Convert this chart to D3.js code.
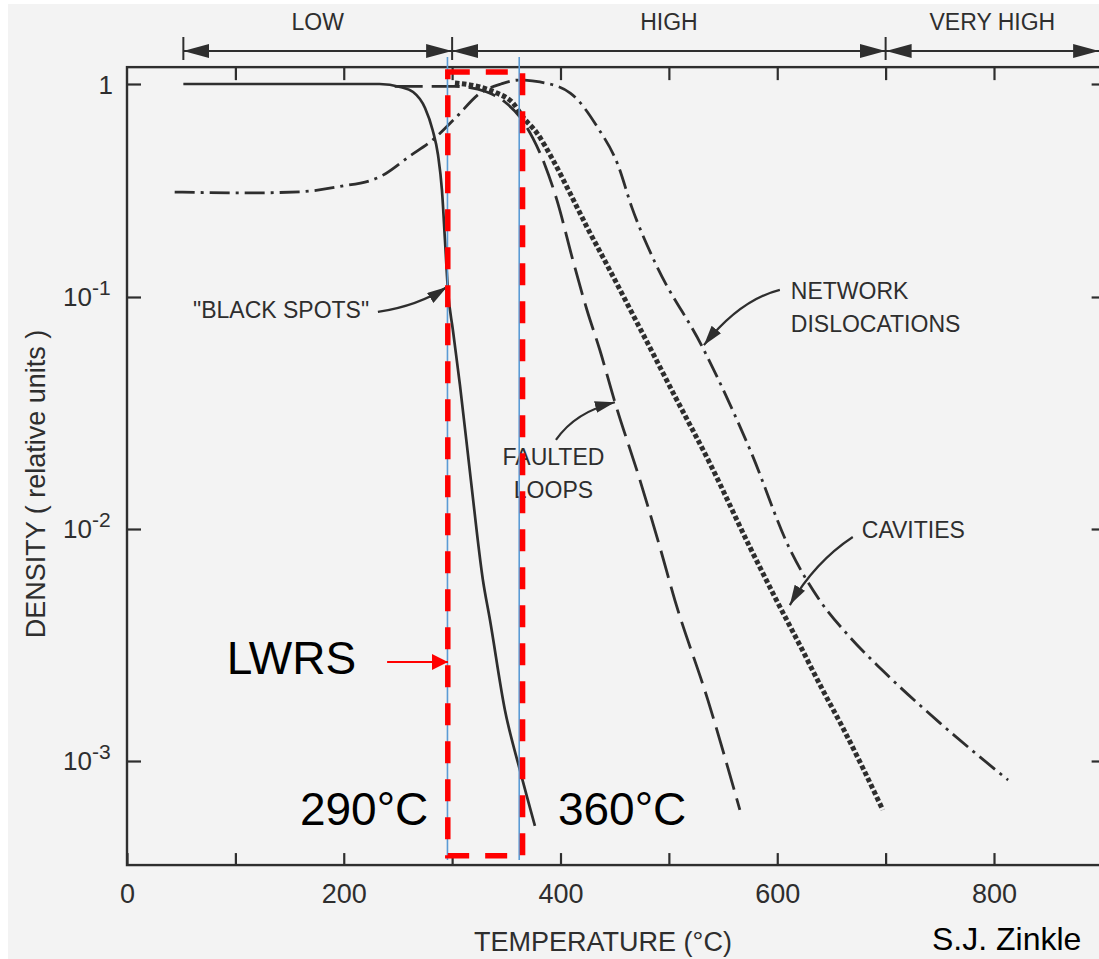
<!DOCTYPE html>
<html>
<head>
<meta charset="utf-8">
<script src="https://cdn.jsdelivr.net/npm/d3@7"></script>
<style>
  body { margin: 0; background: #fff; }
  svg { display: block; font-family: "Liberation Sans", Arial, Helvetica, sans-serif; }
</style>
</head>
<body>
<svg id="chart" width="1099" height="959"></svg>
<script>
// curves: [temperature °C, relative density]
const blackSpots = [[52,1.0],[233,1.0],[252,0.968],[264,0.917],[275,0.771],[282,0.608],[287,0.464],
  [290.6,0.318],[293.4,0.185],[296.1,0.108],[300.7,0.0721],[307.2,0.0418],[317.3,0.01625],
  [328.4,0.00603],[334.9,0.00406],[348.7,0.00166],[362.5,0.000915],[376.4,0.000525]];
const faultedLoops = [[247,0.975],[302,0.975],[332,0.917],[348.7,0.823],[362.5,0.70],[374.5,0.557],
  [385.6,0.417],[396.7,0.285],[411.4,0.149],[424.4,0.0879],[436.3,0.0591],[450.2,0.0352],
  [473.2,0.0163],[491.7,0.00836],[505.5,0.00494],[536,0.00183],[565.5,0.000615]];
const networkDislocations = [[44,0.311],[113,0.308],[160,0.312],[196,0.33],[233,0.366],[261,0.459],
  [282,0.546],[303,0.692],[326,0.907],[345,1.0],[362,1.044],[381,1.022],[409,0.907],[434,0.628],
  [453,0.417],[466,0.262],[487,0.146],[531,0.0608],[575,0.0219],[612,0.00812],[639,0.00494],
  [667,0.00342],[697,0.00246],[750,0.00146],[813,0.000828]];
const cavities = [[302.6,1.011],[325.6,0.968],[341.3,0.907],[356.1,0.814],[365.3,0.70],[378.2,0.589],
  [393,0.44],[408.7,0.308],[424.4,0.213],[439.1,0.154],[473.2,0.0735],[505.5,0.0374],[537.8,0.0192],
  [574.7,0.00836],[597.8,0.00509],[620.8,0.00316],[642,0.00202],[660.5,0.00139],[679,0.000933],
  [697.4,0.000615]];

const xTicks = [0, 100, 200, 300, 400, 500, 600, 700, 800];
const xLabels = [0, 200, 400, 600, 800];
const yTicks = [1, 0.1, 0.01, 0.001];
const yExponents = [0, -1, -2, -3];

const regimeBounds = [52, 300, 700, 897];
const regimeNames = ["LOW", "HIGH", "VERY HIGH"];

// LWRS window added on top of the scan
const lwrsLines = [295.7, 361.9];
const lwrsBoxT = [296, 365];
const lwrsBoxD = [0.00039, 1.138];

const W = 1099, H = 959;
const ink = "#2e2e2e";
const svg = d3.select("#chart");

svg.append("rect").attr("width", W).attr("height", H).attr("fill", "#fff");
svg.append("rect").attr("x", 8).attr("y", 4).attr("width", W - 8).attr("height", H - 4).attr("fill", "#f3f3f3");

const x = d3.scaleLinear().domain([0, 800]).range([127, 994]);
// the hand drawn decades are not equal, so the log scale is piecewise
const y = d3.scaleLog().domain([1e-3, 1e-2, 1e-1, 1]).range([761, 529, 297, 84]);

const frameT = [0, 903], frameD = [3.56e-4, 1.2];
const fx0 = x(frameT[0]), fx1 = x(frameT[1]), fy0 = y(frameD[1]), fy1 = y(frameD[0]);

const defs = svg.append("defs");
defs.append("marker").attr("id", "regHead")
  .attr("viewBox", "0 -7 26 14").attr("refX", 26).attr("refY", 0)
  .attr("markerWidth", 26).attr("markerHeight", 14)
  .attr("markerUnits", "userSpaceOnUse").attr("orient", "auto-start-reverse")
  .append("path").attr("d", "M0,-7L26,0L0,7Z").attr("fill", ink);
defs.append("marker").attr("id", "inkHead")
  .attr("viewBox", "0 -6 20 12").attr("refX", 20).attr("refY", 0)
  .attr("markerWidth", 20).attr("markerHeight", 12)
  .attr("markerUnits", "userSpaceOnUse").attr("orient", "auto")
  .append("path").attr("d", "M0,-6L20,0L0,6Z").attr("fill", ink);
defs.append("marker").attr("id", "redHead")
  .attr("viewBox", "0 -8 16 16").attr("refX", 16).attr("refY", 0)
  .attr("markerWidth", 16).attr("markerHeight", 16)
  .attr("markerUnits", "userSpaceOnUse").attr("orient", "auto")
  .append("path").attr("d", "M0,-8L16,0L0,8Z").attr("fill", "#ff0000");

// frame
svg.append("rect")
  .attr("x", fx0).attr("y", fy0).attr("width", fx1 - fx0).attr("height", fy1 - fy0)
  .attr("fill", "none").attr("stroke", ink).attr("stroke-width", 2.4);

function styleAxis(g) {
  g.select(".domain").remove();
  g.attr("font-family", null).attr("color", ink);
  g.selectAll("line").attr("stroke-width", 2.2);
}

svg.append("g").attr("transform", `translate(0,${fy1})`)
  .call(d3.axisBottom(x).tickValues(xTicks).tickSizeInner(-12).tickSizeOuter(0).tickPadding(19)
    .tickFormat(d => xLabels.includes(d) ? d : ""))
  .call(styleAxis)
  .attr("font-size", 27);

svg.append("g").attr("transform", `translate(0,${fy0})`)
  .call(d3.axisTop(x).tickValues(xTicks.slice(1)).tickSizeInner(-13).tickSizeOuter(0).tickFormat(""))
  .call(styleAxis);

svg.append("g").attr("transform", `translate(${fx0},0)`)
  .call(d3.axisLeft(y).tickValues(yTicks).tickSizeInner(-14).tickSizeOuter(0).tickFormat(""))
  .call(styleAxis);

svg.append("g").attr("transform", `translate(${fx1},0)`)
  .call(d3.axisRight(y).tickValues(yTicks).tickSizeInner(-14).tickSizeOuter(0).tickFormat(""))
  .call(styleAxis);

// y tick labels: 1, 10^-1 ...
yTicks.forEach((v, i) => {
  const e = yExponents[i];
  if (e === 0) {
    svg.append("text").attr("x", 113).attr("y", y(v) + 10).attr("text-anchor", "end")
      .attr("font-size", 26).attr("fill", ink).text("1");
  } else {
    const t = svg.append("text").attr("x", 63).attr("y", y(v) + 9)
      .attr("font-size", 26).attr("fill", ink).text("10");
    t.append("tspan").attr("dy", -11).attr("font-size", 21).text("-" + (-e));
  }
});

// axis titles
svg.append("text").attr("x", 603).attr("y", 951).attr("text-anchor", "middle")
  .attr("font-size", 27).attr("fill", ink).text("TEMPERATURE (°C)");
svg.append("text").attr("transform", "translate(45,484) rotate(-90)").attr("text-anchor", "middle")
  .attr("font-size", 27).attr("fill", ink).text("DENSITY ( relative units )");

// temperature regime bar
const regY = 51;
regimeNames.forEach((name, i) => {
  const a = x(regimeBounds[i]), b = x(regimeBounds[i + 1]);
  svg.append("line").attr("x1", a).attr("x2", b).attr("y1", regY).attr("y2", regY)
    .attr("stroke", ink).attr("stroke-width", 2)
    .attr("marker-start", "url(#regHead)").attr("marker-end", "url(#regHead)");
  svg.append("text").attr("x", (a + b) / 2).attr("y", 30).attr("text-anchor", "middle")
    .attr("font-size", 23).attr("fill", ink).text(name);
});
regimeBounds.slice(0, 3).forEach(t => {
  svg.append("line").attr("x1", x(t)).attr("x2", x(t)).attr("y1", 37).attr("y2", 60)
    .attr("stroke", ink).attr("stroke-width", 2);
});

// curves
const line = d3.line().x(d => x(d[0])).y(d => y(d[1])).curve(d3.curveMonotoneX);
const curveStyles = [
  { data: blackSpots, dash: null, w: 2.7 },
  { data: faultedLoops, dash: "28,9", w: 2.8 },
  { data: networkDislocations, dash: "20,6,3,6", w: 2.8 },
  { data: cavities, dash: "4.5,2.5", w: 5 }
];
svg.append("g").selectAll("path").data(curveStyles).join("path")
  .attr("d", d => line(d.data))
  .attr("fill", "none").attr("stroke", ink)
  .attr("stroke-width", d => d.w)
  .attr("stroke-dasharray", d => d.dash);

// annotations on the scan
function arrowPath(p) {
  const path = d3.path();
  path.moveTo(x(p[0][0]), y(p[0][1]));
  path.quadraticCurveTo(x(p[1][0]), y(p[1][1]), x(p[2][0]), y(p[2][1]));
  return path.toString();
}
const annoArrows = [
  [[231.5, 0.0862], [268.5, 0.0915], [295.2, 0.1114]],
  [[602.4, 0.108], [565.4, 0.0971], [532.3, 0.062]],
  [[395.8, 0.0242], [413.3, 0.0319], [450.2, 0.0352]],
  [[669.7, 0.00924], [634.7, 0.00721], [611.6, 0.0047]]
];
svg.append("g").selectAll("path").data(annoArrows).join("path")
  .attr("d", arrowPath).attr("fill", "none").attr("stroke", ink).attr("stroke-width", 2.2)
  .attr("marker-end", "url(#inkHead)");

const annoLabels = [
  { at: [60.9, 0.0812], anchor: "start", lines: ['"BLACK SPOTS"'] },
  { at: [612.5, 0.098], anchor: "start", lines: ["NETWORK", "DISLOCATIONS"] },
  { at: [393.5, 0.01888], anchor: "middle", lines: ["FAULTED", "LOOPS"] },
  { at: [678, 0.00915], anchor: "start", lines: ["CAVITIES"] }
];
annoLabels.forEach(a => {
  const t = svg.append("text").attr("x", x(a.at[0])).attr("y", y(a.at[1]))
    .attr("text-anchor", a.anchor).attr("font-size", 23).attr("fill", ink);
  a.lines.forEach((s, i) => t.append("tspan").attr("x", x(a.at[0])).attr("dy", i ? 33 : 0).text(s));
});

// LWRS overlay
lwrsLines.forEach(t => {
  svg.append("line").attr("x1", x(t)).attr("x2", x(t)).attr("y1", y(1.339)).attr("y2", y(0.000374))
    .attr("stroke", "#5b9bd5").attr("stroke-width", 1.6);
});
svg.append("rect")
  .attr("x", x(lwrsBoxT[0])).attr("y", y(lwrsBoxD[1]))
  .attr("width", x(lwrsBoxT[1]) - x(lwrsBoxT[0])).attr("height", y(lwrsBoxD[0]) - y(lwrsBoxD[1]))
  .attr("fill", "none").attr("stroke", "#ff0000").attr("stroke-width", 5.5)
  .attr("stroke-dasharray", "22,16");

svg.append("line").attr("x1", x(240)).attr("x2", x(296.1)).attr("y1", y(0.00267)).attr("y2", y(0.00267))
  .attr("stroke", "#ff0000").attr("stroke-width", 2).attr("marker-end", "url(#redHead)");
svg.append("text").attr("x", x(92)).attr("y", y(0.00237)).attr("font-size", 46).attr("fill", "#000").text("LWRS");
svg.append("text").attr("x", x(159.6)).attr("y", y(0.00053)).attr("font-size", 46).attr("fill", "#000").text("290°C");
svg.append("text").attr("x", x(397.6)).attr("y", y(0.00053)).attr("font-size", 46).attr("fill", "#000").text("360°C");

svg.append("text").attr("x", 932).attr("y", 950).attr("font-size", 32).attr("fill", "#000").text("S.J. Zinkle");
</script>
</body>
</html>
